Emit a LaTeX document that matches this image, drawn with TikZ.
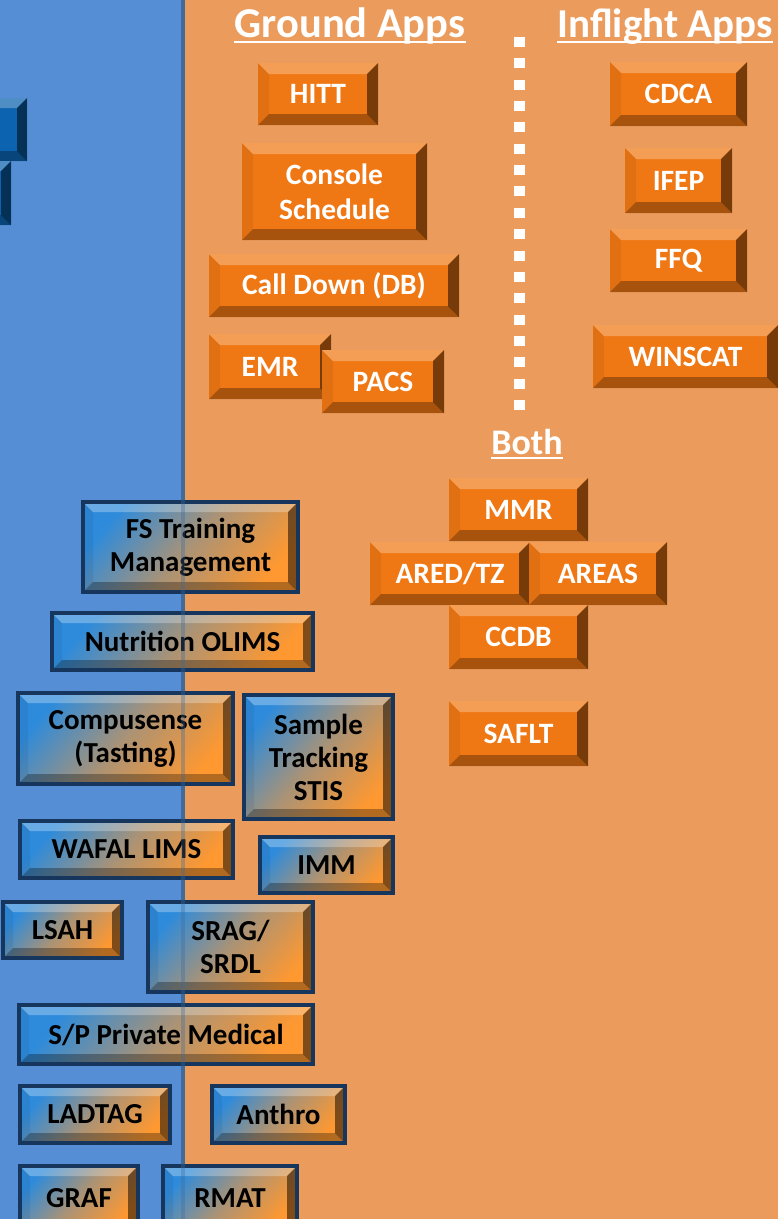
\documentclass[tikz,border=0pt]{standalone}
\usepackage{fontspec}
\setmainfont{Carlito}

\definecolor{bgblue}{HTML}{558ED5}
\definecolor{bgorange}{HTML}{EB9C5C}
\definecolor{divider}{HTML}{3F6A9C}
\definecolor{appface}{HTML}{F07814}
\definecolor{toolrim}{HTML}{17365D}
\definecolor{toolblue}{HTML}{2E8BDB}
\definecolor{toolorange}{HTML}{FF9830}
\definecolor{cutblue}{HTML}{0C63B0}

\tikzset{
  bevel/.style={path picture={
      \path (path picture bounding box.north west) coordinate (bnw)
            (path picture bounding box.north east) coordinate (bne)
            (path picture bounding box.south west) coordinate (bsw)
            (path picture bounding box.south east) coordinate (bse);
      \fill[white, fill opacity=.28] (bnw) -- (bne) -- ([shift={(-#1,-#1)}]bne) -- ([shift={(#1,-#1)}]bnw) -- cycle;
      \fill[black, fill opacity=.06] (bnw) -- (bsw) -- ([shift={(#1,#1)}]bsw) -- ([shift={(#1,-#1)}]bnw) -- cycle;
      \fill[black, fill opacity=.30] (bsw) -- (bse) -- ([shift={(-#1,#1)}]bse) -- ([shift={(#1,#1)}]bsw) -- cycle;
      \fill[black, fill opacity=.50] (bne) -- (bse) -- ([shift={(-#1,#1)}]bse) -- ([shift={(-#1,-#1)}]bne) -- cycle;
  }},
  size/.style 2 args={minimum width=#1pt, minimum height=#2pt},
  app/.style={fill=appface, bevel=11pt, text=white, inner sep=0pt, align=center,
    font=\bfseries\fontsize{29.5}{35}\selectfont},
  tool/.style={draw=toolrim, line width=4pt, left color=toolblue, right color=toolorange,
    middle color=toolblue!40!toolorange, shading angle=50, bevel=10pt, text=black,
    inner sep=0pt, align=center, font=\bfseries\fontsize{29}{33}\selectfont},
  cutbox/.style={fill=cutblue, bevel=10pt, inner sep=0pt},
  hdr/.style={text=white, inner sep=0pt, anchor=base, font=\bfseries\fontsize{42.5}{42.5}\selectfont},
}

\begin{document}
\begin{tikzpicture}[x=1pt, y=-1pt]
  \useasboundingbox (0,0) rectangle (778,1219);
  \clip (0,0) rectangle (778,1219);

  % background halves
  \fill[bgblue] (0,0) rectangle (181,1219);
  \fill[bgorange] (185,0) rectangle (778,1219);
  \fill[divider] (181,0) rectangle (185,1219);

  % boxes cut by the left edge
  \node[cutbox, size={80}{63}] (cutA) at (-13,129.5) {};
  \node[cutbox, size={80}{64}] (cutB) at (-29,193) {};

  % headers
  \node[hdr] (ground) at (350,37) {Ground Apps};
  \node[hdr, font=\bfseries\fontsize{41}{41}\selectfont] (inflight) at (665,37) {Inflight Apps};
  \node[hdr, font=\bfseries\fontsize{36}{36}\selectfont] (both) at (527,454) {Both};
  \draw[white, line width=2.5pt] ([yshift=-5pt]ground.base west) -- ([yshift=-5pt]ground.base east);
  \draw[white, line width=2.5pt] ([yshift=-5pt]inflight.base west) -- ([yshift=-5pt]inflight.base east);
  \draw[white, line width=2.5pt] ([yshift=-4pt]both.base west) -- ([yshift=-4pt]both.base east);

  % ground / inflight separator
  \coordinate (sepTop) at (519,37);
  \coordinate (sepBot) at (519,410);
  \draw[white, line width=11pt, dash pattern=on 10pt off 11.35pt] (sepTop) -- (sepBot);

  % ground apps
  \node[app, size={120}{62}] (hitt) at (318,94) {HITT};
  \node[app, size={185}{97}] (console) at (334.5,191.5) {Console\\Schedule};
  \node[app, size={250}{63}] (calldown) at (334,285.5) {Call Down (DB)};
  \node[app, size={122}{65}] (emr) at (270,366.5) {EMR};
  \node[app, size={122}{63}] (pacs) at (383,381.5) {PACS};

  % inflight apps
  \node[app, size={137}{64}] (cdca) at (678.5,94) {CDCA};
  \node[app, size={107}{65}] (ifep) at (678.5,180.5) {IFEP};
  \node[app, size={137}{63}] (ffq) at (678.5,260.5) {FFQ};
  \node[app, size={185}{63}] (winscat) at (685.5,356.5) {WINSCAT};

  % both
  \node[app, size={139}{63}] (mmr) at (518.5,509.5) {MMR};
  \node[app, size={160}{63}] (aredtz) at (450,573.5) {ARED/TZ};
  \node[app, size={138}{63}] (areas) at (598,573.5) {AREAS};
  \node[app, size={139}{64}] (ccdb) at (518.5,637) {CCDB};
  \node[app, size={139}{65}] (saflt) at (518.5,733.5) {SAFLT};

  % shared tools
  \node[tool, size={215}{90}] (fstm) at (190.5,547) {FS Training\\Management};
  \node[tool, size={261}{57}] (olims) at (182.5,641.5) {Nutrition OLIMS};
  \node[tool, size={215}{91}] (compusense) at (125.5,738.5) {Compusense\\(Tasting)};
  \node[tool, size={149}{124}] (stis) at (318.5,757) {Sample\\Tracking\\STIS};
  \node[tool, size={213}{57}] (wafal) at (126.5,849.5) {WAFAL LIMS};
  \node[tool, size={133}{56}] (imm) at (326.5,865) {IMM};
  \node[tool, size={119}{56}] (lsah) at (62.5,930) {LSAH};
  \node[tool, size={165}{90}] (srag) at (230.5,947) {SRAG/\\SRDL};
  \node[tool, size={294}{59}] (spmed) at (166,1034.5) {S/P Private Medical};
  \node[tool, size={150}{57}] (ladtag) at (95,1114.5) {LADTAG};
  \node[tool, size={133}{57}] (anthro) at (278.5,1114.5) {Anthro};
  \node[tool, size={118}{64}] (graf) at (79,1198) {GRAF};
  \node[tool, size={134}{64}] (rmat) at (230,1198) {RMAT};

  % divider shows through the tool boxes
  \fill[divider, fill opacity=.35] (181,0) rectangle (185,1219);
\end{tikzpicture}
\end{document}
